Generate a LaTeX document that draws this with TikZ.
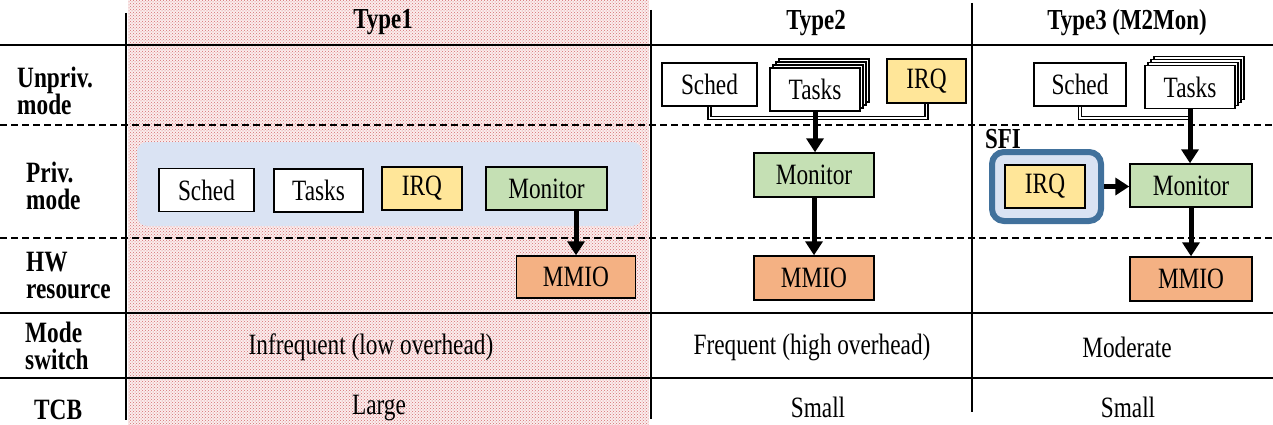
\documentclass[tikz,border=0pt]{standalone}
\usepackage{fontspec}
\setmainfont{Liberation Serif}[FakeStretch=0.79]
\usetikzlibrary{arrows.meta,patterns}
\definecolor{irqc}{HTML}{FFE699}
\definecolor{monc}{HTML}{C5E0B4}
\definecolor{mmioc}{HTML}{F4B183}
\definecolor{lav}{HTML}{DAE3F3}
\definecolor{sfib}{HTML}{41719C}
\definecolor{hatchc}{HTML}{D46E70}
\definecolor{hatchbg}{HTML}{FBEDED}
\begin{document}
\begin{tikzpicture}[x=1pt,y=-1pt,
  font=\fontsize{29.5}{29.5}\selectfont,
  box/.style={draw=black,line width=1.4pt,minimum height=43pt,inner sep=0pt,fill=white},
  irqbox/.style={box,fill=irqc},
  monbox/.style={box,fill=monc},
  mmiobox/.style={box,fill=mmioc},
  hdr/.style={font=\fontsize{29}{29}\selectfont\bfseries},
  rowlbl/.style={font=\fontsize{29.5}{27}\selectfont\bfseries,align=left,anchor=west,inner sep=0pt},
  solidline/.style={line width=2pt},
  dashline/.style={line width=2pt,dash pattern=on 7pt off 4pt},
  conn/.style={line width=1.4pt,double=white,double distance=1.5pt},
  arr/.style={line width=5pt,-{Triangle[length=14pt,width=17pt]}},
]
\useasboundingbox (0,0) rectangle (1273,425);
% Type1 hatched column
\fill[hatchbg] (128,0) rectangle (649,425);
\fill[pattern=crosshatch dots,pattern color=hatchc] (128,0) rectangle (649,425);
% privileged group in Type1
\node (grp1) [fill=lav,rounded corners=10pt,minimum width=505pt,minimum height=84pt,inner sep=0pt] at (389.5,184) {};

% grid lines
\draw[solidline] (0,45) -- (1273,45);
\draw[dashline] (0,125) -- (1273,125);
\draw[dashline] (0,238) -- (1273,238);
\draw[solidline] (0,313) -- (1273,313);
\draw[solidline] (0,378) -- (1273,378);
\draw[solidline] (126,13) -- (126,420);
\draw[solidline] (651,10) -- (651,419);
\draw[solidline] (972,3) -- (972,412);

% headers
\node[hdr] (h1) at (383,22) {Type1};
\node[hdr] (h2) at (816,23) {Type2};
\node[hdr] (h3) at (1127,23) {Type3 (M2Mon)};

% row labels
\node[rowlbl] (l1) at (17,90.5) {Unpriv.\\mode};
\node[rowlbl] (l2) at (26,186) {Priv.\\mode};
\node[rowlbl] (l3) at (26,276) {HW\\resource};
\node[rowlbl] (l4) at (25,346) {Mode\\switch};
\node[rowlbl] (l5) at (34,410) {TCB};

% Type1
\node[box,minimum width=95pt] (s1) at (206.5,190) {Sched};
\node[box,minimum width=89pt] (t1) at (318.5,190.5) {\raisebox{-5pt}{Tasks}};
\node[irqbox,minimum width=80pt] (i1) at (422,188.5) {IRQ};
\node[monbox,minimum width=121pt] (m1) at (546.5,188.5) {Monitor};
\node[mmiobox,minimum width=119pt,minimum height=42pt] (mm1) at (576,277) {MMIO};
\draw[arr] (m1.south -| mm1.north) -- (mm1.north);

% Type2
\node[box,minimum width=95pt] (s2) at (709.5,84.5) {Sched};
\node[box,minimum width=90pt] (t2c) at (824,80.5) {};
\node[box,minimum width=90pt] (t2b) at (821,83.5) {};
\node[box,minimum width=90pt] (t2a) at (818,86.5) {};
\node[box,minimum width=90pt] (t2) at (815,89.5) {\raisebox{-3pt}{Tasks}};
\node[irqbox,minimum width=79pt,minimum height=44pt] (i2) at (926.5,81) {\raisebox{3pt}{IRQ}};
\node[monbox,minimum width=120pt,minimum height=44pt] (m2) at (814,175) {Monitor};
\node[mmiobox,minimum width=120pt,minimum height=44pt] (mm2) at (814,278) {MMIO};
\coordinate (j2) at (815,118);
\draw[conn] (s2.south) -- (s2.south |- j2) -| (i2.south);
\draw[arr] (t2.south) -- (t2.south |- m2.north);
\draw[arr] (m2.south) -- (m2.south |- mm2.north);

% Type3
\node[box,minimum width=92pt] (s3) at (1080,84.5) {Sched};
\node[box,minimum width=90pt] (t3c) at (1199,78) {};
\node[box,minimum width=90pt] (t3b) at (1196,81) {};
\node[box,minimum width=90pt] (t3a) at (1193,84) {};
\node[box,minimum width=90pt] (t3) at (1190,87) {Tasks};
\node[draw=sfib,line width=6pt,fill=lav,rounded corners=12pt,minimum width=109pt,minimum height=69pt,inner sep=0pt] (sfi) at (1046.5,186.5) {};
\node[font=\fontsize{29}{29}\selectfont\bfseries,inner sep=0pt] (sfil) at (1003,139) {SFI};
\node[irqbox,minimum width=80pt] (i3) at (1045,186.5) {IRQ};
\node[monbox,minimum width=122pt] (m3) at (1191,185.5) {Monitor};
\node[mmiobox,minimum width=122pt,minimum height=44pt] (mm3) at (1191,279) {MMIO};
\coordinate (j3) at (1190,118);
\draw[conn] (s3.south) |- (j3);
\draw[arr] (t3.south) -- (t3.south |- m3.north);
\draw[arr] (m3.south) -- (m3.south |- mm3.north);
\draw[arr] (sfi.east) -- (sfi.east -| m3.west);

% cell texts
\node (c11) at (371,347) {Infrequent (low overhead)};
\node (c12) at (812,347) {Frequent (high overhead)};
\node (c13) at (1127,347) {Moderate};
\node (c21) at (379,408) {Large};
\node (c22) at (818,407) {Small};
\node (c23) at (1128,407) {Small};
\end{tikzpicture}
\end{document}
